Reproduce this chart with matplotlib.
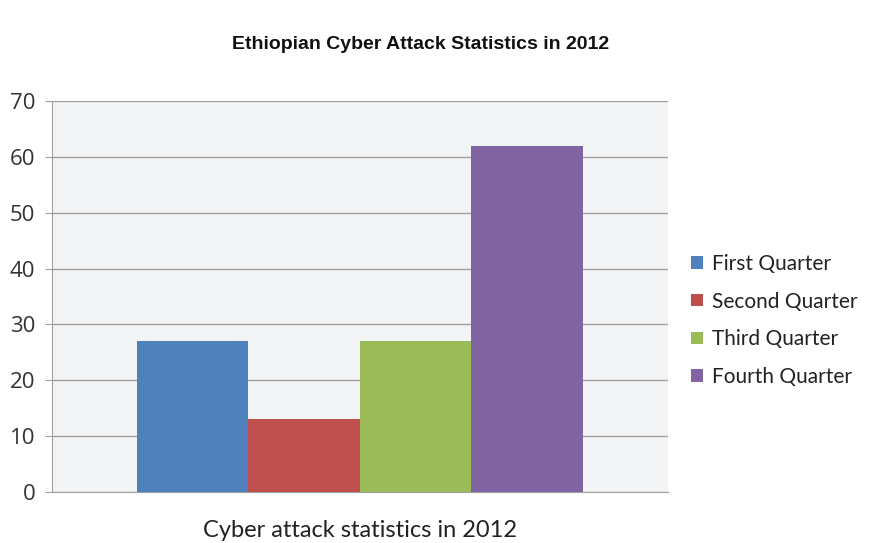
import matplotlib.pyplot as plt

# data
series = ['First Quarter', 'Second Quarter', 'Third Quarter', 'Fourth Quarter']
values = [27, 13, 27, 62]
colors = ['#4f81bd', '#c0504d', '#9bbb59', '#8064a2']
group_label = 'Cyber attack statistics in 2012'
yticks = [0, 10, 20, 30, 40, 50, 60, 70]

fig = plt.figure(figsize=(8.72, 5.43), dpi=100)
ax = fig.add_axes([0.0596, 0.094, 0.7064, 0.72])
ax.set_facecolor('#f3f4f6')

width = 0.181
for i, (name, val, col) in enumerate(zip(series, values, colors)):
    ax.bar(0.5 + (i - 1.5) * width, val, width=width, color=col, label=name, zorder=3)

ax.set_xlim(0, 1)
ax.set_ylim(0, 70)
ax.set_yticks(yticks)
ax.set_xticks([])
ax.yaxis.grid(True, color='#a0a0a0', linewidth=1, zorder=0)
for s in ['top', 'right']:
    ax.spines[s].set_visible(False)
for s in ['left', 'bottom']:
    ax.spines[s].set_color('#a0a0a0')
ax.tick_params(axis='y', colors='#a0a0a0', length=5, pad=7,
               labelcolor='#333333', labelsize=16)
for lbl in ax.get_yticklabels():
    lbl.set_family('Open Sans')

ax.set_xlabel(group_label, fontsize=17, family='Lato', color='#222222', labelpad=20)

fig.text(0.482, 0.918, 'Ethiopian Cyber Attack Statistics in 2012', ha='center', va='center',
         fontsize=14, fontweight='bold', family='Liberation Sans', color='#111111')

fig.legend(loc='center left', bbox_to_anchor=(0.771, 0.41), frameon=False,
           prop={'family': 'Lato', 'size': 15}, handlelength=0.55, handleheight=0.55,
           handletextpad=0.45, labelspacing=0.85, labelcolor='#222222')

fig.savefig('out.png', dpi=100)
